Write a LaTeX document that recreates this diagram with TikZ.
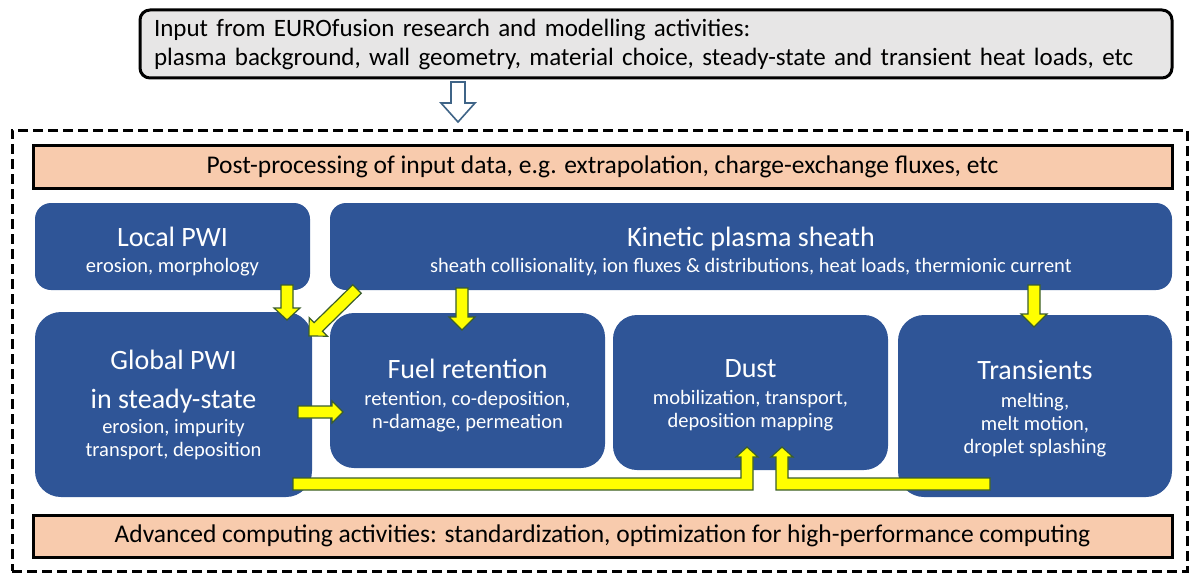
\documentclass[tikz,border=0pt]{standalone}
\usepackage{fontspec}
\setmainfont{Carlito}
\usetikzlibrary{calc}
\definecolor{pblue}{HTML}{2F5597}
\definecolor{peach}{HTML}{F8CBAD}
\definecolor{lgray}{HTML}{E7E6E6}
\definecolor{yel}{HTML}{FFFF00}
\definecolor{yout}{HTML}{3B5E2B}
\definecolor{hout}{HTML}{3F6487}
\newcommand{\ttlfont}{\fontsize{28}{24}\selectfont}
\newcommand{\subfont}{\fontsize{20.5}{23}\selectfont}
\newcommand{\infont}{\fontsize{25}{29}\selectfont}
\newcommand{\pfont}{\fontsize{25.5}{30}\selectfont}
\newcommand{\tstrut}{\rule{0pt}{30pt}}
\newcommand{\sstrut}{\rule{0pt}{24pt}}
% straight block arrow: style, start, tip, shaft half width, head half width, head length
\newcommand{\blockarrow}[6]{%
  \coordinate (bah) at ($(#3)!#6!(#2)$);
  \draw[#1] ($(#2)!#4!90:(#3)$) -- ($(bah)!#4!90:(#3)$) -- ($(bah)!#5!90:(#3)$) -- (#3)
    -- ($(bah)!#5!-90:(#3)$) -- ($(bah)!#4!-90:(#3)$) -- ($(#2)!#4!-90:(#3)$) -- cycle;}
\tikzset{
  bluebox/.style={rectangle, rounded corners=#1, fill=pblue, text=white, align=center, inner sep=0pt, font=\subfont},
  bluebox/.default=16pt,
  peachbox/.style={rectangle, draw=black, line width=3pt, fill=peach, inner sep=0pt, font=\pfont},
  yarrow/.style={fill=yel, draw=yout, line width=1.2pt, line join=miter},
  harrow/.style={fill=white, draw=hout, line width=1.6pt, line join=miter},
}
\begin{document}
\begin{tikzpicture}[x=1pt,y=-1pt]
\useasboundingbox (0,0) rectangle (1190,575);
% input box
\node[rectangle, rounded corners=10pt, draw=black, line width=3pt, fill=lgray,
  minimum width=1032, minimum height=68, text width=1004, inner xsep=14pt, inner ysep=0pt,
  align=left, font=\infont] (input) at (656,44)
  {Input from EUROfusion research and modelling activities:\\plasma background, wall geometry, material choice, steady-state and transient heat loads, etc};
% dashed frame
\node[rectangle, draw=black, line width=3pt, dash pattern=on 10pt off 5pt,
  minimum width=1175, minimum height=441, inner sep=0pt] (frame) at (599.5,350.5) {};
% peach boxes
\node[peachbox, minimum width=1139, minimum height=43] (post) at (602.5,166.5)
  {Post-processing of input data, e.g. extrapolation, charge-exchange fluxes, etc};
\node[peachbox, minimum width=1139, minimum height=42] (adv) at (602.5,536)
  {Advanced computing activities: standardization, optimization for high-performance computing};
% blue boxes
\node[bluebox=16pt, minimum width=275, minimum height=87] (local) at (172.5,246.5)
  {{\ttlfont\tstrut Local PWI}\\[3pt]erosion, morphology};
\node[bluebox=16pt, minimum width=842, minimum height=87] (kin) at (751,246.5)
  {{\ttlfont\tstrut Kinetic plasma sheath}\\[3pt]sheath collisionality, ion fluxes \& distributions, heat loads, thermionic current};
\node[bluebox=26pt, minimum width=277, minimum height=185] (glob) at (173.5,404.5)
  {{\ttlfont Global PWI}\\[16pt]{\ttlfont in steady-state}\\[2pt]erosion, impurity\\transport, deposition};
\node[bluebox=24pt, minimum width=275, minimum height=155] (fuel) at (467.5,390.5)
  {{\ttlfont\tstrut Fuel retention}\\[4pt]retention, co-deposition,\\n-damage, permeation};
\node[bluebox=24pt, minimum width=275, minimum height=155] (dust) at (750.5,392.5)
  {{\ttlfont\sstrut Dust}\\[4pt]mobilization, transport,\\deposition mapping};
\node[bluebox=26pt, minimum width=274, minimum height=182] (trans) at (1035,406)
  {{\ttlfont\sstrut Transients}\\[5pt]melting,\\melt motion,\\droplet splashing};
% connector end points
\coordinate (h1) at (458,82);   \coordinate (h2) at (458,122);
\coordinate (a1) at (287,285);  \coordinate (a2) at (287,320);
\coordinate (b1) at (357,289);  \coordinate (b2) at (309,336);
\coordinate (c1) at (462,288);  \coordinate (c2) at (462,330);
\coordinate (d1) at (1034,285); \coordinate (d2) at (1034,327);
\coordinate (e1) at (298,412);  \coordinate (e2) at (343,412);
\coordinate (f1) at (293,484);  \coordinate (f2) at (747,484); \coordinate (f3) at (747,447);
\coordinate (g1) at (990,484);  \coordinate (g2) at (782,484); \coordinate (g3) at (782,447);
% hollow arrow input -> frame
\blockarrow{harrow}{h1}{h2}{7pt}{17pt}{19pt}
% yellow arrows
\blockarrow{yarrow}{a1}{a2}{6pt}{13pt}{12pt}
\blockarrow{yarrow}{b1}{b2}{6pt}{13pt}{13pt}
\blockarrow{yarrow}{c1}{c2}{6pt}{13pt}{13pt}
\blockarrow{yarrow}{d1}{d2}{6pt}{13pt}{13pt}
\blockarrow{yarrow}{e1}{e2}{6pt}{11pt}{11pt}
\draw[yarrow] ($(f1)+(0,-6)$) -- ($(f2)+(-6,-6)$) -- ($(f3)+(-6,10)$) -- ($(f3)+(-11,10)$) -- (f3)
  -- ($(f3)+(11,10)$) -- ($(f3)+(6,10)$) -- ($(f2)+(6,6)$) -- ($(f1)+(0,6)$) -- cycle;
\draw[yarrow] ($(g1)+(0,-6)$) -- ($(g2)+(6,-6)$) -- ($(g3)+(6,10)$) -- ($(g3)+(11,10)$) -- (g3)
  -- ($(g3)+(-11,10)$) -- ($(g3)+(-6,10)$) -- ($(g2)+(-6,6)$) -- ($(g1)+(0,6)$) -- cycle;
\end{tikzpicture}
\end{document}
